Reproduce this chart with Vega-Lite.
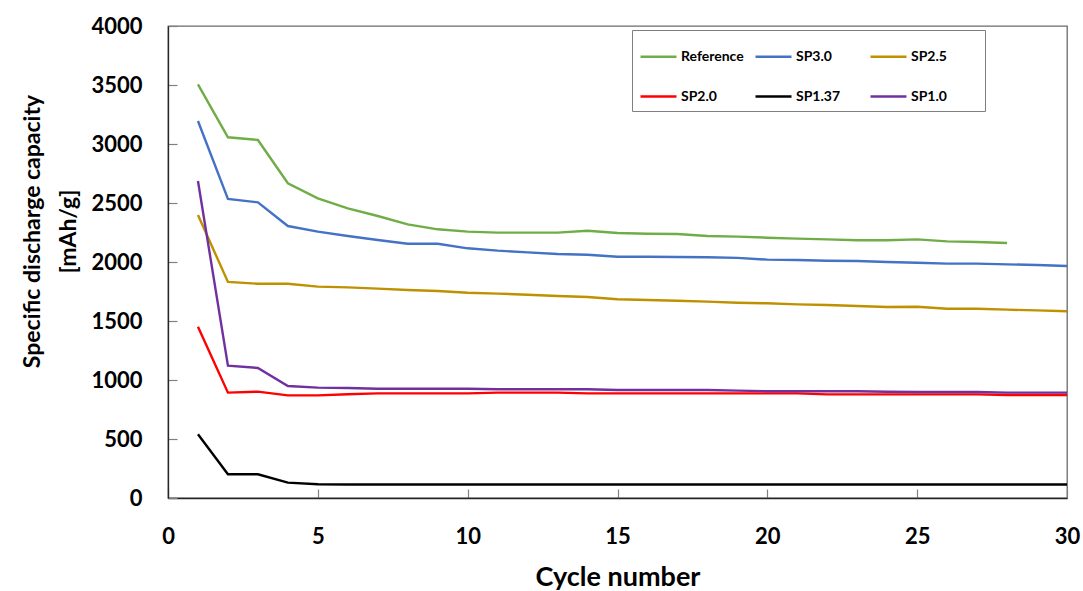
{
  "$schema": "https://vega.github.io/schema/vega-lite/v6.json",
  "width": 899,
  "height": 472,
  "autosize": {"type": "none"},
  "padding": {"left": 168, "top": 26, "right": 16, "bottom": 93},
  "background": "white",
  "config": {
    "font": "Lato",
    "view": {"stroke": "#6a6a6a", "strokeWidth": 1.3}
  },
  "data": {"values": [
    {"c":1,"s":"Reference","v":3505},{"c":2,"s":"Reference","v":3057},{"c":3,"s":"Reference","v":3034},{"c":4,"s":"Reference","v":2667},{"c":5,"s":"Reference","v":2540},{"c":6,"s":"Reference","v":2455},{"c":7,"s":"Reference","v":2390},{"c":8,"s":"Reference","v":2319},{"c":9,"s":"Reference","v":2277},{"c":10,"s":"Reference","v":2257},{"c":11,"s":"Reference","v":2249},{"c":12,"s":"Reference","v":2249},{"c":13,"s":"Reference","v":2249},{"c":14,"s":"Reference","v":2265},{"c":15,"s":"Reference","v":2246},{"c":16,"s":"Reference","v":2240},{"c":17,"s":"Reference","v":2237},{"c":18,"s":"Reference","v":2220},{"c":19,"s":"Reference","v":2215},{"c":20,"s":"Reference","v":2206},{"c":21,"s":"Reference","v":2198},{"c":22,"s":"Reference","v":2192},{"c":23,"s":"Reference","v":2184},{"c":24,"s":"Reference","v":2184},{"c":25,"s":"Reference","v":2192},{"c":26,"s":"Reference","v":2175},{"c":27,"s":"Reference","v":2169},{"c":28,"s":"Reference","v":2161},
    {"c":1,"s":"SP3.0","v":3195},{"c":2,"s":"SP3.0","v":2534},{"c":3,"s":"SP3.0","v":2506},{"c":4,"s":"SP3.0","v":2305},{"c":5,"s":"SP3.0","v":2257},{"c":6,"s":"SP3.0","v":2220},{"c":7,"s":"SP3.0","v":2186},{"c":8,"s":"SP3.0","v":2155},{"c":9,"s":"SP3.0","v":2155},{"c":10,"s":"SP3.0","v":2116},{"c":11,"s":"SP3.0","v":2096},{"c":12,"s":"SP3.0","v":2082},{"c":13,"s":"SP3.0","v":2068},{"c":14,"s":"SP3.0","v":2062},{"c":15,"s":"SP3.0","v":2045},{"c":16,"s":"SP3.0","v":2045},{"c":17,"s":"SP3.0","v":2042},{"c":18,"s":"SP3.0","v":2040},{"c":19,"s":"SP3.0","v":2035},{"c":20,"s":"SP3.0","v":2020},{"c":21,"s":"SP3.0","v":2017},{"c":22,"s":"SP3.0","v":2011},{"c":23,"s":"SP3.0","v":2008},{"c":24,"s":"SP3.0","v":2000},{"c":25,"s":"SP3.0","v":1994},{"c":26,"s":"SP3.0","v":1986},{"c":27,"s":"SP3.0","v":1986},{"c":28,"s":"SP3.0","v":1980},{"c":29,"s":"SP3.0","v":1975},{"c":30,"s":"SP3.0","v":1966},
    {"c":1,"s":"SP2.5","v":2398},{"c":2,"s":"SP2.5","v":1831},{"c":3,"s":"SP2.5","v":1816},{"c":4,"s":"SP2.5","v":1816},{"c":5,"s":"SP2.5","v":1791},{"c":6,"s":"SP2.5","v":1785},{"c":7,"s":"SP2.5","v":1774},{"c":8,"s":"SP2.5","v":1763},{"c":9,"s":"SP2.5","v":1754},{"c":10,"s":"SP2.5","v":1740},{"c":11,"s":"SP2.5","v":1732},{"c":12,"s":"SP2.5","v":1723},{"c":13,"s":"SP2.5","v":1712},{"c":14,"s":"SP2.5","v":1703},{"c":15,"s":"SP2.5","v":1684},{"c":16,"s":"SP2.5","v":1678},{"c":17,"s":"SP2.5","v":1672},{"c":18,"s":"SP2.5","v":1664},{"c":19,"s":"SP2.5","v":1655},{"c":20,"s":"SP2.5","v":1650},{"c":21,"s":"SP2.5","v":1641},{"c":22,"s":"SP2.5","v":1636},{"c":23,"s":"SP2.5","v":1627},{"c":24,"s":"SP2.5","v":1619},{"c":25,"s":"SP2.5","v":1621},{"c":26,"s":"SP2.5","v":1604},{"c":27,"s":"SP2.5","v":1604},{"c":28,"s":"SP2.5","v":1596},{"c":29,"s":"SP2.5","v":1590},{"c":30,"s":"SP2.5","v":1582},
    {"c":1,"s":"SP2.0","v":1452},{"c":2,"s":"SP2.0","v":893},{"c":3,"s":"SP2.0","v":901},{"c":4,"s":"SP2.0","v":870},{"c":5,"s":"SP2.0","v":870},{"c":6,"s":"SP2.0","v":879},{"c":7,"s":"SP2.0","v":887},{"c":8,"s":"SP2.0","v":887},{"c":9,"s":"SP2.0","v":887},{"c":10,"s":"SP2.0","v":887},{"c":11,"s":"SP2.0","v":893},{"c":12,"s":"SP2.0","v":893},{"c":13,"s":"SP2.0","v":893},{"c":14,"s":"SP2.0","v":887},{"c":15,"s":"SP2.0","v":887},{"c":16,"s":"SP2.0","v":887},{"c":17,"s":"SP2.0","v":887},{"c":18,"s":"SP2.0","v":887},{"c":19,"s":"SP2.0","v":887},{"c":20,"s":"SP2.0","v":887},{"c":21,"s":"SP2.0","v":887},{"c":22,"s":"SP2.0","v":878},{"c":23,"s":"SP2.0","v":878},{"c":24,"s":"SP2.0","v":878},{"c":25,"s":"SP2.0","v":878},{"c":26,"s":"SP2.0","v":878},{"c":27,"s":"SP2.0","v":878},{"c":28,"s":"SP2.0","v":873},{"c":29,"s":"SP2.0","v":873},{"c":30,"s":"SP2.0","v":873},
    {"c":1,"s":"SP1.37","v":540},{"c":2,"s":"SP1.37","v":201},{"c":3,"s":"SP1.37","v":201},{"c":4,"s":"SP1.37","v":130},{"c":5,"s":"SP1.37","v":116},{"c":6,"s":"SP1.37","v":115},{"c":7,"s":"SP1.37","v":115},{"c":8,"s":"SP1.37","v":115},{"c":9,"s":"SP1.37","v":115},{"c":10,"s":"SP1.37","v":115},{"c":11,"s":"SP1.37","v":115},{"c":12,"s":"SP1.37","v":115},{"c":13,"s":"SP1.37","v":115},{"c":14,"s":"SP1.37","v":115},{"c":15,"s":"SP1.37","v":115},{"c":16,"s":"SP1.37","v":115},{"c":17,"s":"SP1.37","v":115},{"c":18,"s":"SP1.37","v":115},{"c":19,"s":"SP1.37","v":115},{"c":20,"s":"SP1.37","v":115},{"c":21,"s":"SP1.37","v":115},{"c":22,"s":"SP1.37","v":115},{"c":23,"s":"SP1.37","v":115},{"c":24,"s":"SP1.37","v":115},{"c":25,"s":"SP1.37","v":115},{"c":26,"s":"SP1.37","v":115},{"c":27,"s":"SP1.37","v":115},{"c":28,"s":"SP1.37","v":115},{"c":29,"s":"SP1.37","v":115},{"c":30,"s":"SP1.37","v":115},
    {"c":1,"s":"SP1.0","v":2686},{"c":2,"s":"SP1.0","v":1121},{"c":3,"s":"SP1.0","v":1102},{"c":4,"s":"SP1.0","v":949},{"c":5,"s":"SP1.0","v":935},{"c":6,"s":"SP1.0","v":932},{"c":7,"s":"SP1.0","v":926},{"c":8,"s":"SP1.0","v":926},{"c":9,"s":"SP1.0","v":926},{"c":10,"s":"SP1.0","v":926},{"c":11,"s":"SP1.0","v":922},{"c":12,"s":"SP1.0","v":922},{"c":13,"s":"SP1.0","v":922},{"c":14,"s":"SP1.0","v":922},{"c":15,"s":"SP1.0","v":915},{"c":16,"s":"SP1.0","v":915},{"c":17,"s":"SP1.0","v":915},{"c":18,"s":"SP1.0","v":915},{"c":19,"s":"SP1.0","v":910},{"c":20,"s":"SP1.0","v":905},{"c":21,"s":"SP1.0","v":905},{"c":22,"s":"SP1.0","v":905},{"c":23,"s":"SP1.0","v":905},{"c":24,"s":"SP1.0","v":900},{"c":25,"s":"SP1.0","v":898},{"c":26,"s":"SP1.0","v":898},{"c":27,"s":"SP1.0","v":898},{"c":28,"s":"SP1.0","v":893},{"c":29,"s":"SP1.0","v":893},{"c":30,"s":"SP1.0","v":893}
  ]},
  "mark": {"type": "line", "strokeWidth": 2.4, "clip": true},
  "encoding": {
    "x": {
      "field": "c",
      "type": "quantitative",
      "scale": {"domain": [0, 30], "nice": false, "zero": false},
      "axis": {
        "title": "Cycle number",
        "titleFontSize": 27,
        "titleFontWeight": "bold",
        "titleColor": "#000000",
        "titleBaseline": "alphabetic",
        "titleAlign": "center",
        "titleX": 449.5,
        "titleY": 87,
        "values": [0, 5, 10, 15, 20, 25, 30],
        "format": "d",
        "labelFontSize": 22,
        "labelFontWeight": "bold",
        "labelColor": "#000000",
        "labelPadding": 37,
        "labelFlush": false,
        "tickSize": -9,
        "tickColor": "#808080",
        "tickWidth": 1.2,
        "domainColor": "#262626",
        "domainWidth": 1.3,
        "grid": false
      }
    },
    "y": {
      "field": "v",
      "type": "quantitative",
      "scale": {"domain": [0, 4000], "nice": false},
      "axis": {
        "title": ["Specific discharge capacity", "[mAh/g]"],
        "titleFontSize": 23,
        "titleFontWeight": "bold",
        "titleColor": "#000000",
        "titleAngle": -90,
        "titleAlign": "center",
        "titleBaseline": "alphabetic",
        "titleLineHeight": 36,
        "titleX": -129,
        "titleY": 205,
        "values": [0, 500, 1000, 1500, 2000, 2500, 3000, 3500, 4000],
        "format": "d",
        "labelFontSize": 22,
        "labelFontWeight": "bold",
        "labelColor": "#000000",
        "labelPadding": 35,
        "labelFlush": false,
        "tickSize": -9,
        "tickColor": "#808080",
        "tickWidth": 1.2,
        "domainColor": "#262626",
        "domainWidth": 1.3,
        "grid": false
      }
    },
    "color": {
      "field": "s",
      "type": "nominal",
      "scale": {
        "domain": ["Reference", "SP3.0", "SP2.5", "SP2.0", "SP1.37", "SP1.0"],
        "range": ["#70AD47", "#4472C4", "#BF9000", "#FF0000", "#000000", "#7030A0"]
      },
      "legend": {
        "title": "\u00a0",
        "titleOrient": "right",
        "titlePadding": 31,
        "titleFontSize": 1,
        "orient": "none",
        "legendX": 464,
        "legendY": 4,
        "direction": "horizontal",
        "columns": 3,
        "gridAlign": "all",
        "columnPadding": 6,
        "rowPadding": 13,
        "padding": 7,
        "symbolType": "stroke",
        "symbolSize": 1296,
        "symbolStrokeWidth": 2.4,
        "labelOffset": 3,
        "labelFont": "Lato",
        "labelFontSize": 14,
        "labelFontWeight": "bold",
        "labelColor": "#000000",
        "strokeColor": "#7f7f7f",
        "fillColor": "white"
      }
    }
  }
}
